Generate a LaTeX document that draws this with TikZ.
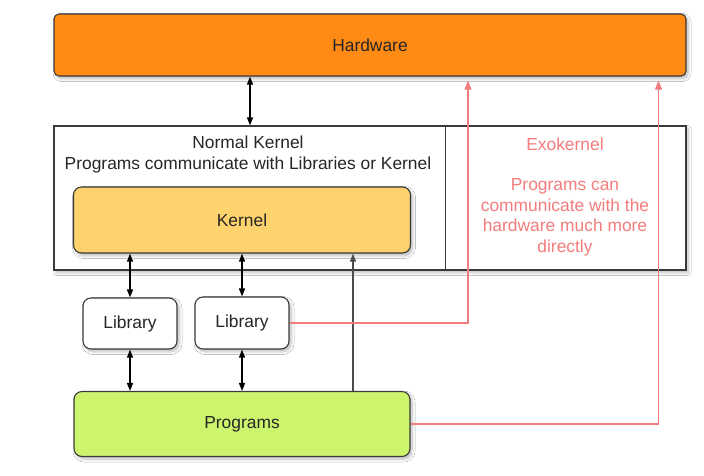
\documentclass[tikz,border=0pt]{standalone}
\usepackage{fontspec}
\setmainfont{Liberation Sans}
\usetikzlibrary{arrows.meta,shadows.blur}

\definecolor{hwfill}{HTML}{FF8A14}
\definecolor{kernfill}{HTML}{FED26C}
\definecolor{progfill}{HTML}{CCF46C}
\definecolor{exored}{HTML}{F37C7C}
\definecolor{edge}{HTML}{3A3A3A}

\tikzset{
  softshadow/.style={blur shadow={shadow xshift=2pt, shadow yshift=-2.5pt, shadow blur steps=6, shadow blur radius=3pt, shadow opacity=28}},
  block/.style={draw=edge, line width=1.1pt, rounded corners=8pt, softshadow,
    font=\fontsize{17.4}{20}\selectfont, text=black!85},
  panel/.style={draw=edge, line width=1.3pt, fill=white, softshadow},
  label/.style={font=\fontsize{17.4}{20.2}\selectfont, align=center, text=black!85},
  exolabel/.style={font=\fontsize{17.4}{20.4}\selectfont, align=center, text=exored},
  dbl/.style={{Triangle[length=8pt,width=6pt]}-{Triangle[length=8pt,width=6pt]}, line width=1.2pt, black},
  up/.style={-{Triangle[length=8pt,width=6pt]}, line width=1.1pt, black!70},
  redlink/.style={-{Triangle[length=9pt,width=7pt]}, line width=1.2pt, exored, shorten >=4pt},
}

\begin{document}
\begin{tikzpicture}[x=1pt, y=-1pt]
  \fill[white] (0,0) rectangle (704,475);
  \useasboundingbox (0,0) rectangle (704,475);

  % hardware layer
  \node[block, fill=hwfill, rounded corners=5pt, minimum width=632pt, minimum height=62pt] (hw) at (370,45) {Hardware};

  % kernel panel with its normal and exokernel halves
  \node[panel, minimum width=632pt, minimum height=144pt] (panel) at (370,198) {};
  \coordinate (split) at (445.5,0);
  \draw[edge, line width=1.2pt] (panel.north -| split) -- (panel.south -| split);
  \node[label] (normal) at (248,154.5) {Normal Kernel\\Programs communicate with Libraries or Kernel};
  \node[exolabel] (exo) at (565,196.5) {Exokernel\\ \\Programs can\\communicate with the\\hardware much more\\directly};

  \node[block, fill=kernfill, minimum width=337pt, minimum height=66pt] (kernel) at (242,220) {Kernel};

  % libraries and programs
  \node[block, fill=white, minimum width=94pt, minimum height=51pt] (lib1) at (130,323.5) {Library};
  \node[block, fill=white, minimum width=94pt, minimum height=52pt] (lib2) at (242,323) {Library};
  \node[block, fill=progfill, minimum width=336pt, minimum height=65pt] (prog) at (242,424) {Programs};

  % connectors
  \coordinate (hwlink) at (250,0);
  \draw[dbl] (hw.south -| hwlink) -- (panel.north -| hwlink);
  \draw[dbl] (kernel.south -| lib1) -- (lib1.north);
  \draw[dbl] (kernel.south -| lib2) -- (lib2.north);
  \draw[dbl] (lib1.south) -- (prog.north -| lib1);
  \draw[dbl] (lib2.south) -- (prog.north -| lib2);
  \coordinate (direct) at (353,0);
  \draw[up] (prog.north -| direct) -- (kernel.south -| direct);

  % exokernel paths straight to the hardware
  \coordinate (exo1) at (468,0);
  \coordinate (exo2) at (658.5,0);
  \draw[redlink] (lib2.east) -| (hw.south -| exo1);
  \draw[redlink] (prog.east) -| (hw.south -| exo2);
\end{tikzpicture}
\end{document}
